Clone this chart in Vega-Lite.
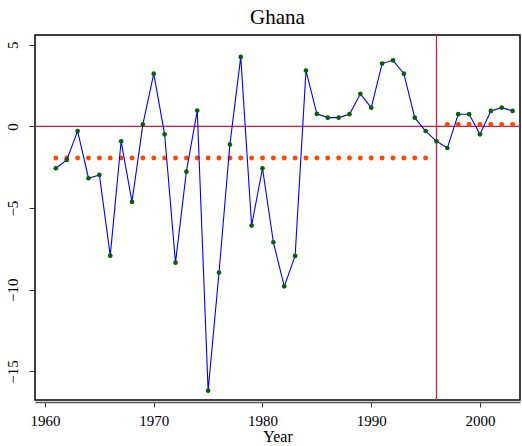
{
  "$schema": "https://vega.github.io/schema/vega-lite/v6.json",
  "width": 485,
  "height": 365,
  "autosize": {"type": "none"},
  "padding": {"left": 35, "top": 35, "right": 2, "bottom": 46},
  "background": "white",
  "title": {"text": "Ghana", "font": "Liberation Serif", "fontSize": 21, "fontWeight": "normal", "color": "black", "offset": 6},
  "config": {
    "view": {"stroke": "black", "strokeWidth": 1.5},
    "axis": {"labelFont": "Liberation Serif", "titleFont": "Liberation Serif", "labelFontSize": 15, "titleFontSize": 16, "labelColor": "black", "titleColor": "black", "titleFontWeight": "normal", "grid": false}
  },
  "datasets": {
    "series": [
      {"year": 1961, "value": -2.56}, {"year": 1962, "value": -2.05}, {"year": 1963, "value": -0.28},
      {"year": 1964, "value": -3.17}, {"year": 1965, "value": -2.97}, {"year": 1966, "value": -7.91},
      {"year": 1967, "value": -0.91}, {"year": 1968, "value": -4.62}, {"year": 1969, "value": 0.13},
      {"year": 1970, "value": 3.23}, {"year": 1971, "value": -0.48}, {"year": 1972, "value": -8.34},
      {"year": 1973, "value": -2.77}, {"year": 1974, "value": 0.97}, {"year": 1975, "value": -16.18},
      {"year": 1976, "value": -8.95}, {"year": 1977, "value": -1.11}, {"year": 1978, "value": 4.26},
      {"year": 1979, "value": -6.07}, {"year": 1980, "value": -2.56}, {"year": 1981, "value": -7.09},
      {"year": 1982, "value": -9.79}, {"year": 1983, "value": -7.93}, {"year": 1984, "value": 3.42},
      {"year": 1985, "value": 0.77}, {"year": 1986, "value": 0.54}, {"year": 1987, "value": 0.54},
      {"year": 1988, "value": 0.75}, {"year": 1989, "value": 1.99}, {"year": 1990, "value": 1.15},
      {"year": 1991, "value": 3.85}, {"year": 1992, "value": 4.05}, {"year": 1993, "value": 3.23},
      {"year": 1994, "value": 0.54}, {"year": 1995, "value": -0.28}, {"year": 1996, "value": -0.91},
      {"year": 1997, "value": -1.32}, {"year": 1998, "value": 0.75}, {"year": 1999, "value": 0.75},
      {"year": 2000, "value": -0.48}, {"year": 2001, "value": 0.95}, {"year": 2002, "value": 1.15},
      {"year": 2003, "value": 0.95}
    ],
    "means": [
      {"year": 1961, "mean": -1.93}, {"year": 1962, "mean": -1.93}, {"year": 1963, "mean": -1.93},
      {"year": 1964, "mean": -1.93}, {"year": 1965, "mean": -1.93}, {"year": 1966, "mean": -1.93},
      {"year": 1967, "mean": -1.93}, {"year": 1968, "mean": -1.93}, {"year": 1969, "mean": -1.93},
      {"year": 1970, "mean": -1.93}, {"year": 1971, "mean": -1.93}, {"year": 1972, "mean": -1.93},
      {"year": 1973, "mean": -1.93}, {"year": 1974, "mean": -1.93}, {"year": 1975, "mean": -1.93},
      {"year": 1976, "mean": -1.93}, {"year": 1977, "mean": -1.93}, {"year": 1978, "mean": -1.93},
      {"year": 1979, "mean": -1.93}, {"year": 1980, "mean": -1.93}, {"year": 1981, "mean": -1.93},
      {"year": 1982, "mean": -1.93}, {"year": 1983, "mean": -1.93}, {"year": 1984, "mean": -1.93},
      {"year": 1985, "mean": -1.93}, {"year": 1986, "mean": -1.93}, {"year": 1987, "mean": -1.93},
      {"year": 1988, "mean": -1.93}, {"year": 1989, "mean": -1.93}, {"year": 1990, "mean": -1.93},
      {"year": 1991, "mean": -1.93}, {"year": 1992, "mean": -1.93}, {"year": 1993, "mean": -1.93},
      {"year": 1994, "mean": -1.93}, {"year": 1995, "mean": -1.93},
      {"year": 1997, "mean": 0.13}, {"year": 1998, "mean": 0.13}, {"year": 1999, "mean": 0.13},
      {"year": 2000, "mean": 0.13}, {"year": 2001, "mean": 0.13}, {"year": 2002, "mean": 0.13},
      {"year": 2003, "mean": 0.13}
    ],
    "refs": [{"vyear": 1996, "hval": 0}]
  },
  "layer": [
    {
      "data": {"name": "refs"},
      "mark": {"type": "rule", "color": "#dc143c", "strokeWidth": 1.2},
      "encoding": {
        "y": {"field": "hval", "type": "quantitative", "scale": {"domain": [-16.75, 5.6], "nice": false, "zero": false},
          "axis": {"values": [-15, -10, -5, 0, 5], "title": null, "domain": false, "tickColor": "#333", "tickSize": 6, "labelAngle": -90, "labelAlign": "center", "labelBaseline": "alphabetic", "labelPadding": 12, "labelFont": "Liberation Serif"}}
      }
    },
    {
      "data": {"name": "refs"},
      "mark": {"type": "rule", "color": "#dc143c", "strokeWidth": 1.2},
      "encoding": {
        "x": {"field": "vyear", "type": "quantitative", "scale": {"domain": [1959.08, 2003.68], "nice": false, "zero": false},
          "axis": {"values": [1960, 1970, 1980, 1990, 2000], "format": "d", "title": "Year", "offset": 2, "domainColor": "#555", "domainWidth": 1.5, "tickColor": "#333", "tickSize": 5, "labelPadding": 6, "titlePadding": 0, "labelFont": "Liberation Serif", "titleFont": "Liberation Serif"}}
      }
    },
    {
      "data": {"name": "means"},
      "mark": {"type": "circle", "color": "#ff4500", "size": 24, "opacity": 1},
      "encoding": {
        "x": {"field": "year", "type": "quantitative"},
        "y": {"field": "mean", "type": "quantitative"}
      }
    },
    {
      "data": {"name": "series"},
      "mark": {"type": "line", "color": "#0000ff", "strokeWidth": 1.1},
      "encoding": {
        "x": {"field": "year", "type": "quantitative"},
        "y": {"field": "value", "type": "quantitative"}
      }
    },
    {
      "data": {"name": "series"},
      "mark": {"type": "circle", "color": "#006400", "size": 22, "opacity": 1},
      "encoding": {
        "x": {"field": "year", "type": "quantitative"},
        "y": {"field": "value", "type": "quantitative"}
      }
    }
  ]
}
